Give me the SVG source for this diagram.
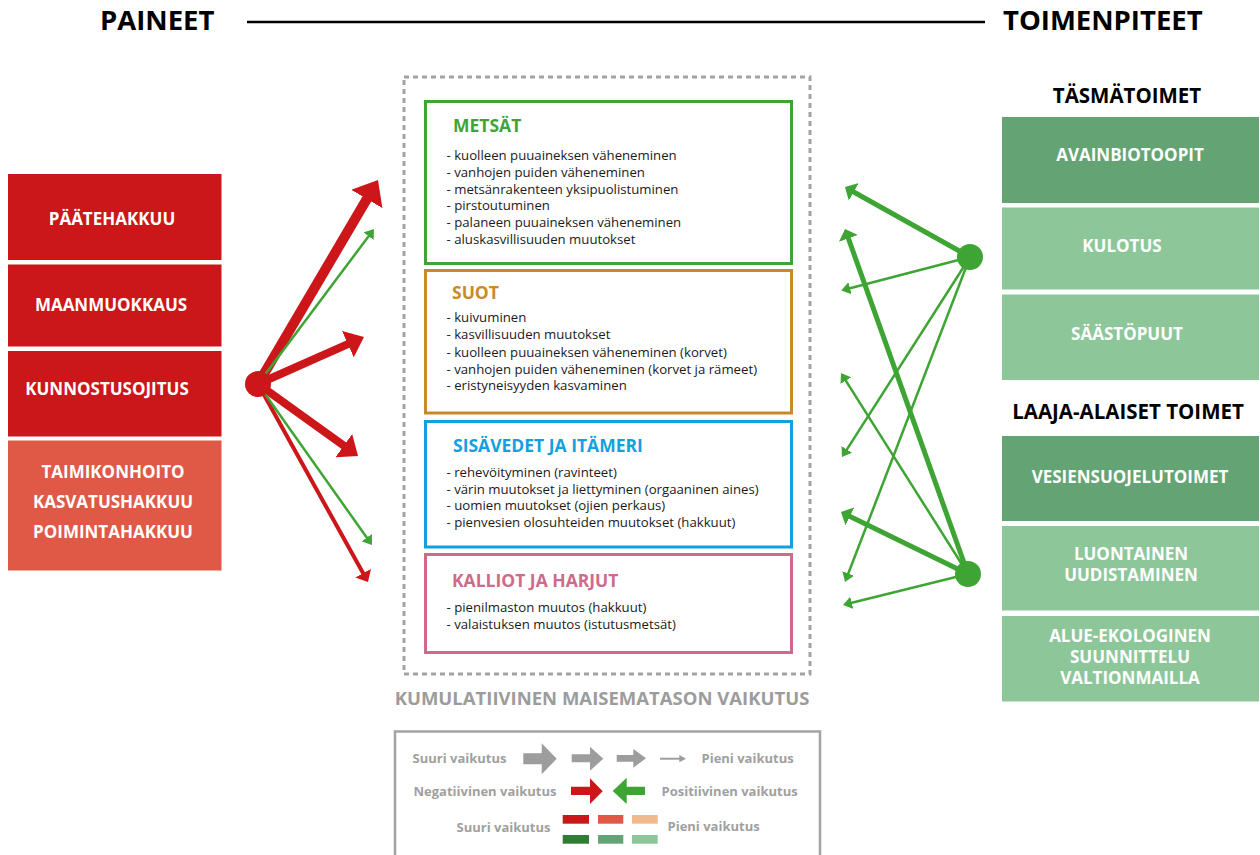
<svg xmlns="http://www.w3.org/2000/svg" width="1260" height="855" viewBox="0 0 1260 855">
<style>
text{font-family:"Open Sans","Liberation Sans",sans-serif}
.hd{font-size:27.5px;font-weight:700;fill:#000}
.sub{font-size:20.5px;font-weight:700;fill:#000;text-anchor:middle}
.bx{font-size:17px;font-weight:700;fill:#fff;text-anchor:middle}
.ttl{font-size:17.5px;font-weight:700}
.it{font-size:13.2px;fill:#1a1a1a}
.lg{font-size:13px;font-weight:700;fill:#a0a0a0}
.red{fill:#cb161a}.sal{fill:#e05846}.pch{fill:#f2b98c}
.g1{fill:#2f7d32}.g2{fill:#64a474}.g3{fill:#8dc799}
</style>
<defs>
<marker id="hR" viewBox="0 0 22 36" refX="3" refY="18" markerWidth="2.2" markerHeight="3.6" orient="auto" markerUnits="strokeWidth"><path d="M0,0 L22,18 L0,36 Z" fill="#cc161a"/></marker>
<marker id="hRm" viewBox="0 0 25 45" refX="3" refY="22.5" markerWidth="2.5" markerHeight="4.5" orient="auto" markerUnits="strokeWidth"><path d="M0,0 L25,22.5 L0,45 Z" fill="#cc161a"/></marker>
<marker id="hG" viewBox="0 0 36 50" refX="4" refY="25" markerWidth="3.6" markerHeight="5" orient="auto" markerUnits="strokeWidth"><path d="M0,0 L36,25 L0,50 Z" fill="#3ea535"/></marker>
<marker id="hGb" viewBox="0 0 20 40" refX="3" refY="20" markerWidth="2" markerHeight="4" orient="auto" markerUnits="strokeWidth"><path d="M0,0 L20,20 L0,40 Z" fill="#3ea535"/></marker>
</defs>
<rect width="1260" height="855" fill="#fff"/>

<g id="header">
<text class="hd" x="100" y="30">PAINEET</text>
<line x1="247" y1="22" x2="985" y2="22" stroke="#000" stroke-width="2.5"/>
<text class="hd" x="1003" y="30">TOIMENPITEET</text>
</g>

<g id="p1"><rect x="8" y="174" width="213.5" height="86" class="red"/><text class="bx" x="112" y="225">PÄÄTEHAKKUU</text></g>
<g id="p2"><rect x="8" y="264.5" width="213.5" height="82" class="red"/><text class="bx" x="111" y="311">MAANMUOKKAUS</text></g>
<g id="p3"><rect x="8" y="351" width="213.5" height="85.5" class="red"/><text class="bx" x="107" y="395">KUNNOSTUSOJITUS</text></g>
<g id="p4"><rect x="8" y="440.5" width="213.5" height="130" class="sal"/>
<text class="bx" x="113" y="478">TAIMIKONHOITO</text>
<text class="bx" x="113" y="508">KASVATUSHAKKUU</text>
<text class="bx" x="113" y="538">POIMINTAHAKKUU</text></g>

<g id="cumulative">
<rect x="404" y="77" width="406" height="597" fill="none" stroke="#a3a3a3" stroke-width="3" stroke-dasharray="5 4"/>
<text x="602" y="705" text-anchor="middle" style="font-size:18.5px;font-weight:700;fill:#9c9c9c">KUMULATIIVINEN MAISEMATASON VAIKUTUS</text>
</g>

<g id="metsat">
<rect x="425.5" y="101.5" width="366" height="162" fill="#fff" stroke="#3ea535" stroke-width="3"/>
<text class="ttl" x="453" y="132" fill="#3ea535">METSÄT</text>
<text class="it" x="446.5" y="160">- kuolleen puuaineksen väheneminen</text>
<text class="it" x="446.5" y="176.5">- vanhojen puiden väheneminen</text>
<text class="it" x="446.5" y="193.5">- metsänrakenteen yksipuolistuminen</text>
<text class="it" x="446.5" y="210">- pirstoutuminen</text>
<text class="it" x="446.5" y="226.5">- palaneen puuaineksen väheneminen</text>
<text class="it" x="446.5" y="243.5">- aluskasvillisuuden muutokset</text>
</g>

<g id="suot">
<rect x="425.5" y="270.5" width="366" height="142.5" fill="#fff" stroke="#c98a2a" stroke-width="3"/>
<text class="ttl" x="452" y="298.5" fill="#c98a2a">SUOT</text>
<text class="it" x="446.5" y="322">- kuivuminen</text>
<text class="it" x="446.5" y="338.5">- kasvillisuuden muutokset</text>
<text class="it" x="446.5" y="356.5">- kuolleen puuaineksen väheneminen (korvet)</text>
<text class="it" x="446.5" y="373.5">- vanhojen puiden väheneminen (korvet ja rämeet)</text>
<text class="it" x="446.5" y="390">- eristyneisyyden kasvaminen</text>
</g>

<g id="sisavedet">
<rect x="425.5" y="421.5" width="366" height="125.5" fill="#fff" stroke="#13a0de" stroke-width="3"/>
<text class="ttl" x="453" y="452" fill="#13a0de">SISÄVEDET JA ITÄMERI</text>
<text class="it" x="446.5" y="477">- rehevöityminen (ravinteet)</text>
<text class="it" x="446.5" y="493.5">- värin muutokset ja liettyminen (orgaaninen aines)</text>
<text class="it" x="446.5" y="510">- uomien muutokset (ojien perkaus)</text>
<text class="it" x="446.5" y="527">- pienvesien olosuhteiden muutokset (hakkuut)</text>
</g>

<g id="kalliot">
<rect x="425.5" y="554.5" width="366" height="98" fill="#fff" stroke="#d06a8a" stroke-width="3"/>
<text class="ttl" x="452" y="587" fill="#d06a8a">KALLIOT JA HARJUT</text>
<text class="it" x="446.5" y="612">- pienilmaston muutos (hakkuut)</text>
<text class="it" x="446.5" y="628.5">- valaistuksen muutos (istutusmetsät)</text>
</g>

<g id="t-header"><text class="sub" x="1127" y="103">TÄSMÄTOIMET</text></g>
<g id="t1"><rect x="1002" y="117" width="257" height="86" class="g2"/><text class="bx" x="1130" y="161">AVAINBIOTOOPIT</text></g>
<g id="t2"><rect x="1002" y="207.5" width="257" height="82" class="g3"/><text class="bx" x="1122" y="252">KULOTUS</text></g>
<g id="t3"><rect x="1002" y="294.5" width="257" height="85.5" class="g3"/><text class="bx" x="1127" y="340">SÄÄSTÖPUUT</text></g>
<g id="l-header"><text class="sub" x="1128" y="419">LAAJA-ALAISET TOIMET</text></g>
<g id="l1"><rect x="1002" y="436" width="257" height="85" class="g2"/><text class="bx" x="1130" y="483">VESIENSUOJELUTOIMET</text></g>
<g id="l2"><rect x="1002" y="526" width="257" height="84.5" class="g3"/><text class="bx" x="1131" y="560">LUONTAINEN</text><text class="bx" x="1131" y="581">UUDISTAMINEN</text></g>
<g id="l3"><rect x="1002" y="616" width="257" height="85.5" class="g3"/><text class="bx" x="1130" y="642">ALUE-EKOLOGINEN</text><text class="bx" x="1130" y="663">SUUNNITTELU</text><text class="bx" x="1130" y="684">VALTIONMAILLA</text></g>

<g id="connectors">
<g stroke="#cc161a" fill="none">
<path d="M258,384 L368.4,196.4" stroke-width="10" marker-end="url(#hR)"/>
<path d="M258,384 L350.1,343.2" stroke-width="8" marker-end="url(#hR)"/>
<path d="M258,384 L345.7,447.1" stroke-width="8" marker-end="url(#hR)"/>
<path d="M258,384 L363.7,574.3" stroke-width="4" marker-end="url(#hRm)"/>
</g>
<g stroke="#3ea535" fill="none">
<path d="M258,384 L369.2,235.4" stroke-width="2.5" marker-end="url(#hG)"/>
<path d="M258,384 L367.4,538.5" stroke-width="2.5" marker-end="url(#hG)"/>
<path d="M970,257 L852.4,191.2" stroke-width="5" marker-end="url(#hGb)"/>
<path d="M970,257 L849,288.5" stroke-width="2.5" marker-end="url(#hG)"/>
<path d="M970,257 L846.3,450.3" stroke-width="2.5" marker-end="url(#hG)"/>
<path d="M970,257 L847.9,574.5" stroke-width="2.5" marker-end="url(#hG)"/>
<path d="M968,574 L847.9,237" stroke-width="5" marker-end="url(#hGb)"/>
<path d="M968,574 L845.3,379.8" stroke-width="2.5" marker-end="url(#hG)"/>
<path d="M968,574 L848.6,515.7" stroke-width="5" marker-end="url(#hGb)"/>
<path d="M968,574 L850.8,603" stroke-width="2.5" marker-end="url(#hG)"/>
</g>
<circle cx="258" cy="384" r="13" fill="#cc161a"/>
<circle cx="970" cy="257" r="13" fill="#3ea535"/>
<circle cx="968" cy="574" r="13" fill="#3ea535"/>
</g>

<g id="legend">
<rect x="395" y="731.5" width="425" height="140" fill="none" stroke="#a3a3a3" stroke-width="2.5"/>
<text class="lg" x="412.5" y="762.5">Suuri vaikutus</text>
<path d="M523.3,753.3 H541.7 V743.3 L556.7,758.8 L541.7,774.3 V764.3 H523.3 Z" fill="#9d9d9d"/>
<path d="M571.7,754.3 H590 V746.7 L603.3,758.7 L590,770.7 V762.3 H571.7 Z" fill="#9d9d9d"/>
<path d="M616.7,755 H633.3 V749 L646,758.3 L633.3,767.7 V761.7 H616.7 Z" fill="#9d9d9d"/>
<line x1="660" y1="758.7" x2="680" y2="758.7" stroke="#9d9d9d" stroke-width="2"/>
<path d="M679.3,755 L686,758.7 L679.3,762.3 Z" fill="#9d9d9d"/>
<text class="lg" x="701.5" y="762.5">Pieni vaikutus</text>
<text class="lg" x="413.5" y="796">Negatiivinen vaikutus</text>
<path d="M571,786.7 H590 V778.3 L602.7,791.2 L590,804 V795 H571 Z" fill="#cc161a"/>
<path d="M612.7,791 L626.7,777.7 V786.7 H645 V795 H626.7 V804 Z" fill="#3ea535"/>
<text class="lg" x="661.5" y="796">Positiivinen vaikutus</text>
<text class="lg" x="456.5" y="832">Suuri vaikutus</text>
<rect x="562.7" y="815" width="26.3" height="8.7" class="red"/>
<rect x="598" y="815" width="25.3" height="8.7" class="sal"/>
<rect x="632" y="815" width="25.7" height="8.7" class="pch"/>
<rect x="562.7" y="835" width="26.3" height="8.7" class="g1"/>
<rect x="598" y="835" width="25.3" height="8.7" class="g2"/>
<rect x="632" y="835" width="25.7" height="8.7" class="g3"/>
<text class="lg" x="667.5" y="831">Pieni vaikutus</text>
</g>
</svg>
